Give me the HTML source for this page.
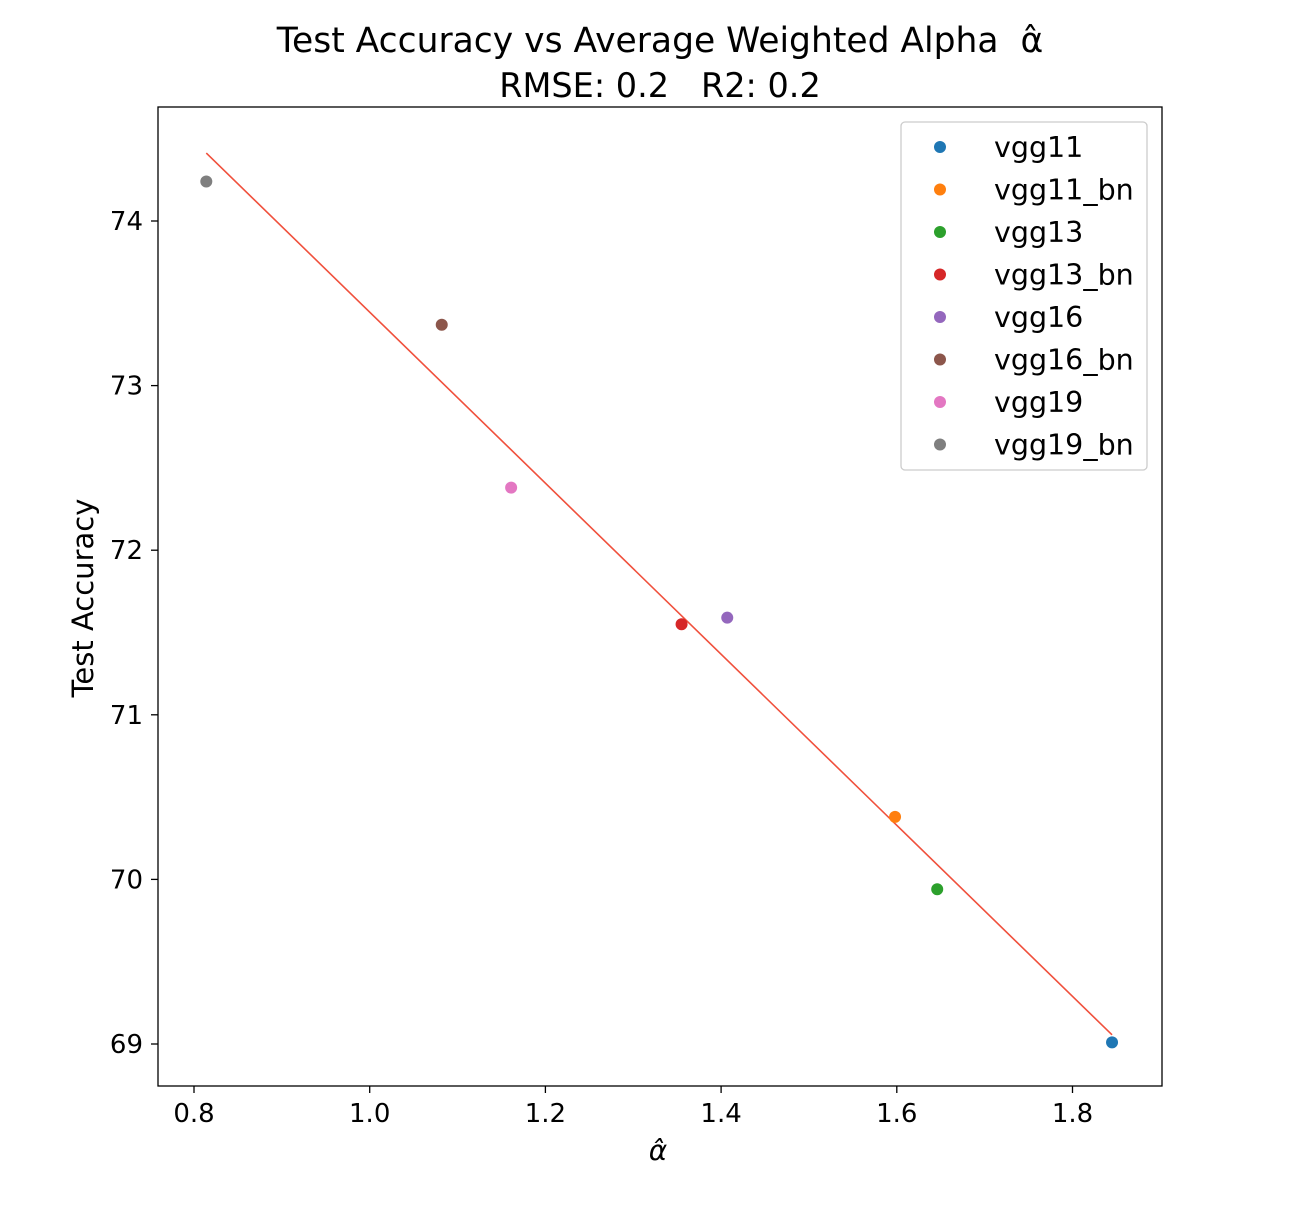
<!DOCTYPE html>
<html><head><meta charset="utf-8"><style>
html,body{margin:0;padding:0;background:#fff;}
svg text{font-family:"DejaVu Sans","Liberation Sans",sans-serif;fill:#000;white-space:pre;}
</style></head><body>
<svg id="chart" width="1300" height="1200" xmlns="http://www.w3.org/2000/svg">
<text x="660" y="52" font-size="34.5" text-anchor="middle">Test Accuracy vs Average Weighted Alpha  α̂</text>
<text x="660" y="97" font-size="33.5" text-anchor="middle">RMSE: 0.2   R2: 0.2</text>
<g id="plot"></g>
<rect x="158" y="107" width="1004" height="979" fill="none" stroke="#000" stroke-width="1.3"/>
<text x="658" y="1160" font-size="28" text-anchor="middle" font-style="italic">α̂</text>
<text transform="translate(93,598) rotate(-90)" font-size="29" text-anchor="middle">Test Accuracy</text>
</svg>
<script>
const names=["vgg11","vgg11_bn","vgg13","vgg13_bn","vgg16","vgg16_bn","vgg19","vgg19_bn"];
const alphaVals=[1.845,1.598,1.646,1.355,1.407,1.082,1.161,0.814];
const accVals=[69.01,70.38,69.94,71.55,71.59,73.37,72.38,74.24];
const colors=["#1f77b4","#ff7f0e","#2ca02c","#d62728","#9467bd","#8c564b","#e377c2","#7f7f7f"];
const xTicks=[0.8,1.0,1.2,1.4,1.6,1.8];
const yTicks=[69,70,71,72,73,74];
const NS="http://www.w3.org/2000/svg";
const sx=v=>194+(v-0.8)*878.5;
const sy=v=>1044-(v-69)*164.6;
const svg=document.getElementById('chart');
const plot=document.getElementById('plot');
function mk(t,a,p){const e=document.createElementNS(NS,t);for(const k in a)e.setAttribute(k,a[k]);(p||plot).appendChild(e);return e;}
xTicks.forEach(t=>{
 const l=mk('line',{x1:sx(t),x2:sx(t),y1:1086,y2:1093,stroke:'#000','stroke-width':1.3});
 
 
 const tx=mk('text',{x:sx(t),y:1122,'font-size':26,'text-anchor':'middle'});
 tx.textContent=t.toFixed(1);
 
 
});
yTicks.forEach(t=>{
 const l=mk('line',{x1:151,x2:158,y1:sy(t),y2:sy(t),stroke:'#000','stroke-width':1.3});
 
 
 const tx=mk('text',{x:143,y:sy(t)+9,'font-size':26,'text-anchor':'end'});
 tx.textContent=t;
 
 
});
const n=alphaVals.length;
const mx=alphaVals.reduce((a,b)=>a+b)/n, my=accVals.reduce((a,b)=>a+b)/n;
let sxy=0,sxx=0;for(let i=0;i<n;i++){sxy+=(alphaVals[i]-mx)*(accVals[i]-my);sxx+=(alphaVals[i]-mx)**2;}
const slope=sxy/sxx, icpt=my-slope*mx;
const xmin=Math.min(...alphaVals), xmax=Math.max(...alphaVals);
const fl=mk('line',{x1:sx(xmin),y1:sy(slope*xmin+icpt),x2:sx(xmax),y2:sy(slope*xmax+icpt),stroke:'#f0503c','stroke-width':1.6});


for(let i=0;i<n;i++){
 const c=mk('circle',{cx:sx(alphaVals[i]),cy:sy(accVals[i]),r:6,fill:colors[i]});
 
 
}
const lg=mk('g',{},svg);


mk('rect',{x:901,y:122,width:246,height:348,rx:4,fill:'#fff',stroke:'#ccc','stroke-width':1.3},lg);
names.forEach((nm,i)=>{
 const y=147+i*42.5;
 const c=mk('circle',{cx:940,cy:y,r:6,fill:colors[i]},lg);
 
 
 const t=mk('text',{x:994,y:y+10,'font-size':28.5},lg);
 t.textContent=nm;
 
 
});
</script>
</body></html>
